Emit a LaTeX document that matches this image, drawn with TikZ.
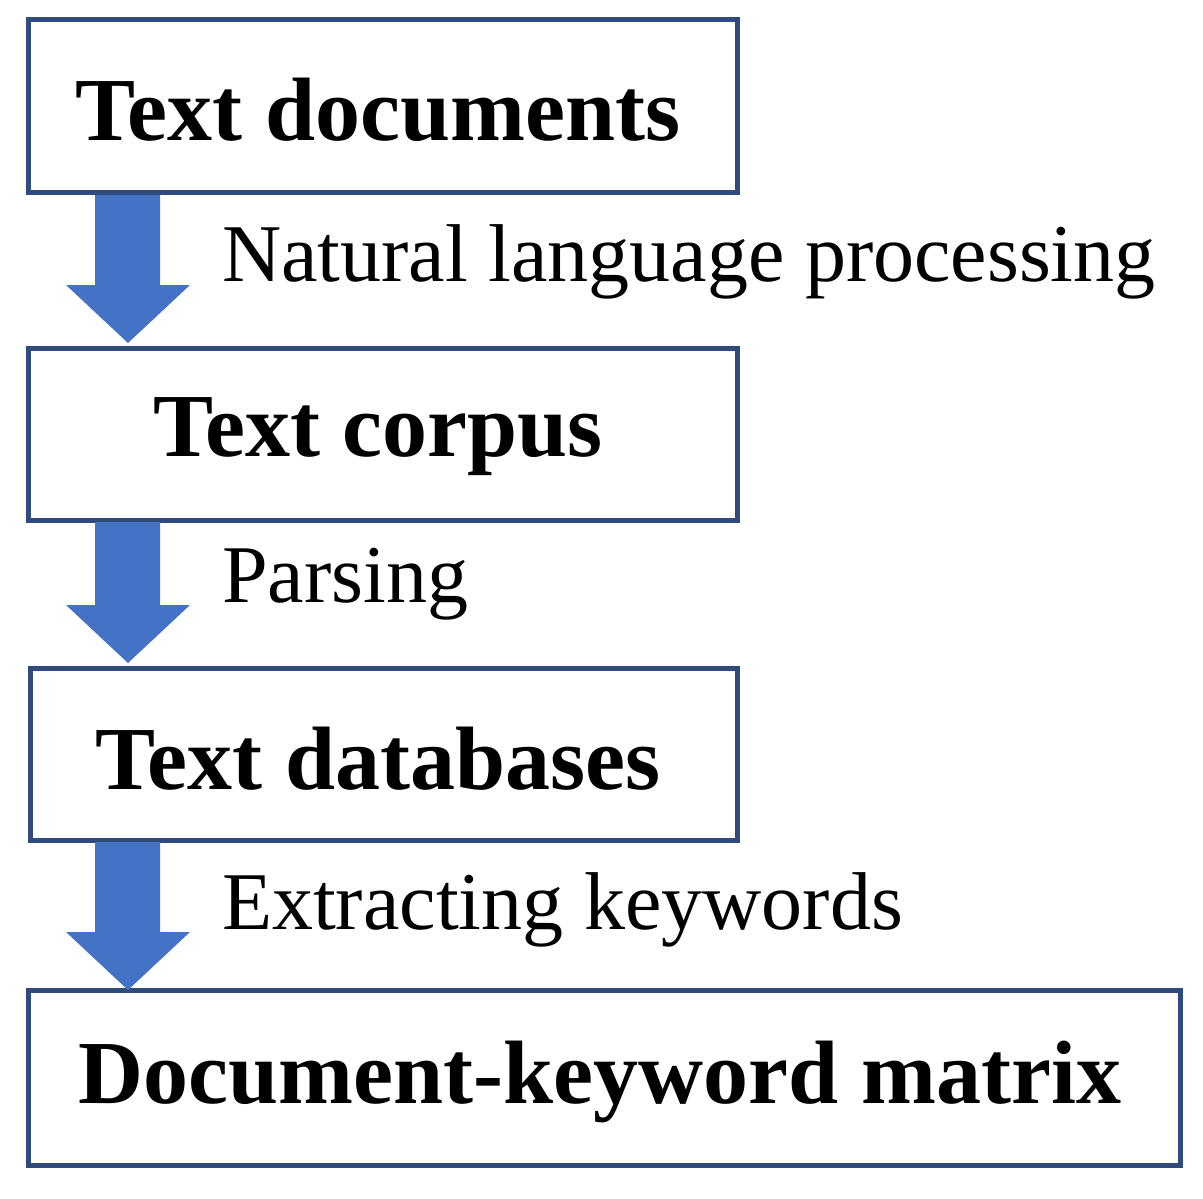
\documentclass[tikz,border=0pt]{standalone}
\usepackage{fontspec}
\setmainfont{Liberation Serif}
\definecolor{boxc}{HTML}{2F4B7C}
\definecolor{arrc}{HTML}{4472C4}
\begin{document}
\begin{tikzpicture}[x=0.5pt,y=-0.5pt,
  box/.style={draw=boxc,line width=2.5pt},
  btxt/.style={font=\fontsize{45}{50}\selectfont\bfseries},
  ltxt/.style={font=\fontsize{41}{46}\selectfont,anchor=west},
  barrow/.style={fill=arrc}]
\useasboundingbox (0,0) rectangle (1203,1198);
\draw[box] (28,20) rectangle (737,193);
\draw[box] (28,348) rectangle (737,520);
\draw[box] (30,668) rectangle (737,840);
\draw[box] (28,990) rectangle (1180,1165);
\node[btxt] (a) at (378,110) {Text documents};
\node[btxt] (b) at (378,437) {Text corpus};
\node[btxt] (c) at (378,759) {Text databases};
\node[btxt] (d) at (600,1082) {Document-keyword matrix};
\foreach \t/\b in {195/343, 522/663, 842/990}{
  \fill[barrow] (95,\t) -- (160,\t) -- (160,\b-58) -- (190,\b-58) -- (128,\b) -- (66,\b-58) -- (95,\b-58) -- cycle;
}
\node[ltxt] (l1) at (215,262) {Natural language processing};
\node[ltxt] (l2) at (215,584) {Parsing};
\node[ltxt] (l3) at (215,910) {Extracting keywords};
\end{tikzpicture}
\end{document}
